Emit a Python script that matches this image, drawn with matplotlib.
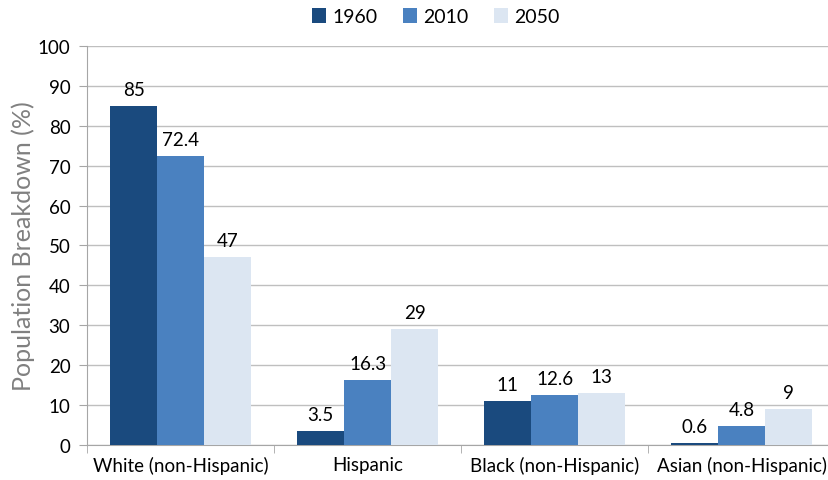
import numpy as np
import matplotlib.pyplot as plt

groups = ['White (non-Hispanic)', 'Hispanic', 'Black (non-Hispanic)', 'Asian (non-Hispanic)']
years = ['1960', '2010', '2050']
pct_1960 = [85, 3.5, 11, 0.6]
pct_2010 = [72.4, 16.3, 12.6, 4.8]
pct_2050 = [47, 29, 13, 9]
colors = ['#1A4A7E', '#4A81C0', '#DCE6F2']


def make_plot():
    plt.rcParams['font.family'] = ['Lato', 'DejaVu Sans']
    fig = plt.figure(figsize=(8.29, 4.81), dpi=100)
    ax = fig.add_axes([0.105, 0.0728, 0.9023, 0.8295])

    x = np.arange(len(groups))
    w = 0.251
    series = [pct_1960, pct_2010, pct_2050]
    for i, (vals, yr) in enumerate(zip(series, years)):
        bars = ax.bar(x + (i - 1) * w, vals, w, color=colors[i], label=yr, zorder=3)
        for b, v in zip(bars, vals):
            ax.text(b.get_x() + b.get_width() / 2, v + 2.0, f'{v:g}',
                    ha='center', va='bottom', fontsize=13.5)

    ax.set_ylim(0, 100)
    ax.set_yticks(range(0, 101, 10))
    ax.set_xlim(-0.5, 3.5)
    ax.set_xticks(x)
    ax.set_xticklabels(groups, fontsize=13.5)
    ax.set_xticks(np.arange(-0.5, 3.6, 1), minor=True)
    ax.tick_params(axis='x', which='major', length=0, pad=8)
    ax.tick_params(axis='x', which='minor', length=6, color='#A6A6A6')
    ax.tick_params(axis='y', length=6, color='#A6A6A6', labelsize=13.5, pad=6)

    ax.grid(axis='y', color='#BFBFBF', lw=1, zorder=0)
    for s in ['top', 'right']:
        ax.spines[s].set_visible(False)
    for s in ['left', 'bottom']:
        ax.spines[s].set_color('#A6A6A6')

    ax.set_ylabel('Population Breakdown (%)', fontsize=18, color='#808080', labelpad=2)

    ax.legend(loc='center', bbox_to_anchor=(0.466, 1.073), ncol=3, frameon=False,
              fontsize=14, handlelength=0.75, handleheight=0.75, handletextpad=0.3,
              columnspacing=1.3)

    plt.savefig('out.png')
    plt.close()


if __name__ == '__main__':
    make_plot()
